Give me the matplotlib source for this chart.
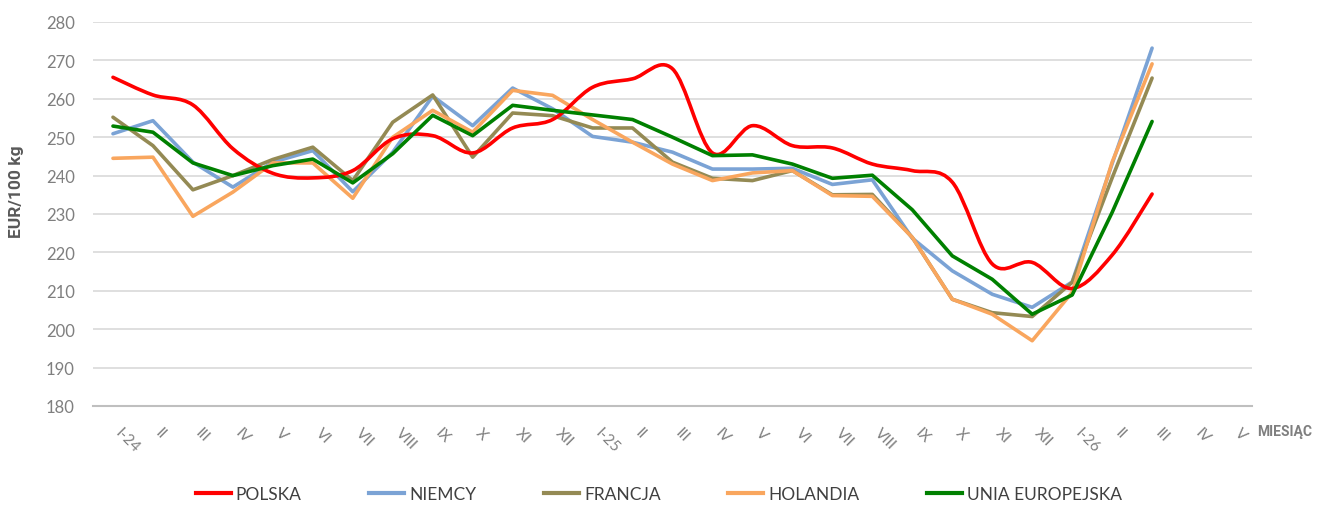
import matplotlib
matplotlib.use("Agg")
import matplotlib.pyplot as plt
from matplotlib.path import Path
from matplotlib.patches import PathPatch
from matplotlib.lines import Line2D
import numpy as np

months = ["I-24", "II", "III", "IV", "V", "VI", "VII", "VIII", "IX", "X", "XI", "XII",
          "I-25", "II", "III", "IV", "V", "VI", "VII", "VIII", "IX", "X", "XI", "XII",
          "I-26", "II", "III", "IV", "V"]

polska = [265.6, 261.0, 258.4, 247.0, 240.6, 239.4, 241.3, 249.6, 250.4, 245.9, 252.4, 254.6,
          263.0, 265.2, 267.8, 245.9, 253.0, 247.8, 247.2, 243.0, 241.3, 238.3, 217.0, 217.4,
          210.6, 219.3, 235.2]
niemcy = [250.9, 254.3, 243.5, 237.0, 243.5, 246.5, 235.8, 246.1, 260.7, 253.0, 262.8, 257.4,
          250.2, 248.7, 246.1, 241.7, 241.7, 241.9, 237.7, 238.9, 223.7, 215.2, 209.1, 205.7,
          212.3, 243.1, 273.2]
francja = [255.2, 247.8, 236.3, 240.0, 244.2, 247.4, 238.7, 253.9, 261.0, 244.8, 256.3, 255.6,
           252.4, 252.4, 243.5, 239.3, 238.7, 241.3, 235.0, 235.1, 223.9, 207.8, 204.3, 203.3,
           212.2, 239.4, 265.4]
holandia = [244.5, 244.8, 229.4, 235.7, 243.3, 243.3, 234.1, 250.0, 257.0, 251.3, 262.2, 260.9,
            254.6, 248.7, 243.0, 238.7, 240.7, 241.3, 234.8, 234.6, 223.9, 207.8, 203.9, 197.0,
            209.6, 243.5, 269.1]
ue = [252.9, 251.3, 243.3, 240.0, 242.6, 244.3, 238.1, 245.7, 255.7, 250.4, 258.3, 257.0,
      255.8, 254.6, 250.0, 245.2, 245.4, 243.0, 239.3, 240.1, 231.1, 219.1, 213.0, 203.9,
      208.9, 230.4, 254.1]

series_names = ["POLSKA", "NIEMCY", "FRANCJA", "HOLANDIA", "UNIA EUROPEJSKA"]
colors = ["#FF0000", "#7BA3D5", "#948A54", "#F9A65E", "#008000"]

plt.rcParams["font.family"] = ["Lato", "DejaVu Sans"]
bold_fam = ["Roboto", "DejaVu Sans"]

W, H = 1318, 506
fig = plt.figure(figsize=(W / 100, H / 100), dpi=100)
left, right, top, bottom = 93, 1252, 23, 407
ax = fig.add_axes([left / W, 1 - bottom / H, (right - left) / W, (bottom - top) / H])

x = np.arange(len(months))


def smooth_path(xs, ys):
    pts = np.column_stack([xs, ys]).astype(float)
    n = len(pts)
    verts = [pts[0]]
    codes = [Path.MOVETO]
    for i in range(n - 1):
        p0 = pts[i - 1] if i > 0 else pts[i]
        p1 = pts[i]
        p2 = pts[i + 1]
        p3 = pts[i + 2] if i + 2 < n else pts[i + 1]
        c1 = p1 + (p2 - p0) / 6.0
        c2 = p2 - (p3 - p1) / 6.0
        verts += [c1, c2, p2]
        codes += [Path.CURVE4] * 3
    return Path(verts, codes)


lw = 2.6
data = [polska, niemcy, francja, holandia, ue]
for k in [1, 2, 3, 0, 4]:
    vals = data[k]
    xs = x[:len(vals)]
    if k == 0:
        patch = PathPatch(smooth_path(xs, vals), facecolor="none", edgecolor=colors[0],
                          lw=lw, capstyle="round", joinstyle="round", zorder=3)
        ax.add_patch(patch)
    else:
        ax.plot(xs, vals, color=colors[k], lw=lw, solid_joinstyle="round",
                solid_capstyle="round", zorder=3 if k == 4 else 2)

ax.set_xlim(-0.5, len(months) - 0.5)
ax.set_ylim(180, 280)
ax.set_yticks(np.arange(180, 281, 10))
ax.grid(axis="y", color="#D9D9D9", lw=1.2)
ax.set_axisbelow(True)
for s in ["left", "right", "top"]:
    ax.spines[s].set_visible(False)
ax.spines["bottom"].set_color("#BFBFBF")
ax.spines["bottom"].set_linewidth(1.5)
ax.tick_params(axis="y", length=0, pad=13, labelsize=12, labelcolor="#7F7F7F")
ax.set_xticks(x)
ax.set_xticklabels(months, rotation=-45, ha="left", va="top", rotation_mode="default")
ax.tick_params(axis="x", length=0, pad=14, labelsize=11, labelcolor="#7F7F7F")

fig.text(17 / W, 1 - 192 / H, "EUR/100 kg", rotation=90, ha="center", va="center",
         fontsize=12.5, fontweight="bold", color="#595959", family=bold_fam)
fig.text(1257 / W, 1 - 432 / H, "MIESIĄC", ha="left", va="center",
         fontsize=10, fontweight="bold", color="#7F7F7F", family=bold_fam)

handles = [Line2D([0], [0], color=c, lw=3) for c in colors]
fig.legend(handles, series_names, loc="center", bbox_to_anchor=(0.5, 1 - 495 / H), ncol=5,
           frameon=False, fontsize=12.5, handlelength=2.0, handletextpad=0.3,
           columnspacing=3.9, labelcolor="#404040")

fig.savefig("out.png", dpi=100)
